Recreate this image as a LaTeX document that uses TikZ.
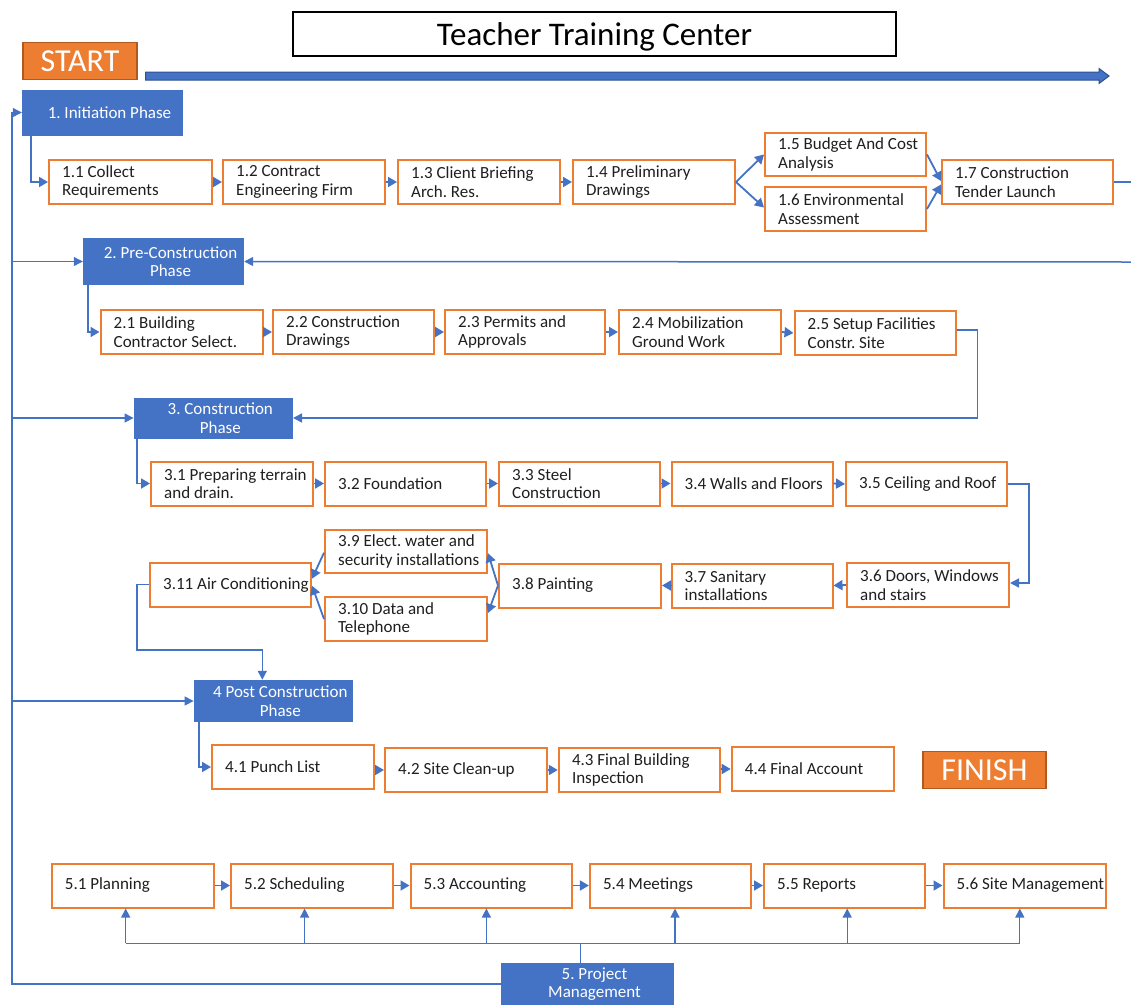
\documentclass[tikz,border=0pt]{standalone}
\usepackage{fontspec}
\setmainfont{Carlito}
\usetikzlibrary{arrows.meta}
\definecolor{pblue}{HTML}{4472C4}
\definecolor{pbluedark}{HTML}{2F528F}
\definecolor{porange}{HTML}{ED7D31}
\definecolor{porangedark}{HTML}{AE5A21}
\newcommand\bodyfont{\fontsize{17}{18.5}\selectfont\frenchspacing}
\newcommand\tagfont{\fontsize{32}{36}\selectfont}
\newcommand\titlefont{\fontsize{33}{38}\selectfont}

\begin{document}
\frenchspacing
\begin{tikzpicture}[x=1pt,y=-1pt,
  obox/.style={draw=porange, line width=2pt, fill=white, rectangle, inner sep=0pt, minimum height=44pt},
  otx/.style={anchor=west, inner sep=0pt, align=left, font=\bodyfont, text=black!88, xshift=14pt},
  phase/.style={fill=pblue, rectangle, inner sep=0pt},
  ptx/.style={inner sep=0pt, align=center, font=\bodyfont, text=white, xshift=7pt},
  tag/.style={fill=porange, draw=porangedark, line width=1.2pt, text=white, font=\tagfont, inner sep=0pt, text height=21pt, text depth=0pt},
  flow/.style={pblue, line width=1.8pt, -{Triangle[length=9pt,width=10pt]}},
  wire/.style={pblue, line width=1.1pt},
  wirearrow/.style={wire, -{Triangle[length=9pt,width=9pt]}},
]
\useasboundingbox (0,0) rectangle (1131,1004);
\clip (0,0) rectangle (1131,1004);

% title, start/finish tags and the timeline arrow
\node[draw=black, line width=2pt, minimum width=603pt, minimum height=44pt, inner sep=0pt, font=\titlefont, text height=23pt, text depth=0pt] (title) at (594.5,34) {Teacher Training Center};
\node[tag, minimum width=114pt, minimum height=37pt] (start) at (80,60.8) {START};
\node[tag, minimum width=123pt, minimum height=36.5pt] (finish) at (984.5,770) {FINISH};
\filldraw[fill=pblue, draw=pbluedark, line width=1pt]
  (145.5,72) -- (1099,72) -- (1099,68.5) -- (1109,76) -- (1099,83.5) -- (1099,80) -- (145.5,80) -- cycle;

% phase boxes
\node[phase, minimum width=161pt, minimum height=46pt, label={[ptx]center:{1. Initiation Phase}}] (p1) at (102.5,112.5) {};
\node[phase, minimum width=161pt, minimum height=47pt, label={[ptx]center:{2. Pre-Construction\\Phase}}] (p2) at (163.5,261.5) {};
\node[phase, minimum width=159pt, minimum height=41pt, label={[ptx]center:{3. Construction\\Phase}}] (p3) at (213.3,418) {};
\node[phase, minimum width=159pt, minimum height=42pt, label={[ptx]center:{4 Post Construction\\Phase}}] (p4) at (273.3,701) {};
\node[phase, minimum width=173pt, minimum height=42pt, label={[ptx]center:{5. Project\\Management}}] (pm) at (587.5,984) {};

% 1. initiation
\node[obox, minimum width=163pt, label={[otx]west:{1.1 Collect\\Requirements}}] (n11) at (130.5,182) {};
\node[obox, minimum width=162pt, label={[otx]west:{1.2 Contract\\Engineering Firm}}] (n12) at (304,182) {};
\node[obox, minimum width=162pt, label={[otx]west:{1.3 Client Briefing\\Arch. Res.}}] (n13) at (479,182) {};
\node[obox, minimum width=162pt, label={[otx]west:{1.4 Preliminary\\Drawings}}] (n14) at (654,182) {};
\node[obox, minimum width=161pt, minimum height=43pt, label={[otx]west:{1.5 Budget And Cost\\Analysis}}] (n15) at (845.5,154.5) {};
\node[obox, minimum width=161pt, label={[otx]west:{1.6 Environmental\\Assessment}}] (n16) at (845.5,209) {};
\node[obox, minimum width=171pt, label={[otx]west:{1.7 Construction\\Tender Launch}}] (n17) at (1027.5,182) {};

% 2. pre-construction
\node[obox, minimum width=162pt, label={[otx]west:{2.1 Building\\Contractor Select.}}] (n21) at (181.5,332) {};
\node[obox, minimum width=161pt, label={[otx]west:{2.2 Construction\\Drawings}}] (n22) at (353.5,332) {};
\node[obox, minimum width=160pt, label={[otx]west:{2.3 Permits and\\Approvals}}] (n23) at (525,332) {};
\node[obox, minimum width=162pt, label={[otx]west:{2.4 Mobilization\\Ground Work}}] (n24) at (700,332) {};
\node[obox, minimum width=161pt, label={[otx]west:{2.5 Setup Facilities\\Constr. Site}}] (n25) at (875,333) {};

% 3. construction
\node[obox, minimum width=162pt, label={[otx]west:{3.1 Preparing terrain\\and drain.}}] (n31) at (232,483.5) {};
\node[obox, minimum width=161pt, label={[otx]west:{3.2 Foundation}}] (n32) at (405.5,483.5) {};
\node[obox, minimum width=161pt, label={[otx]west:{3.3 Steel\\Construction}}] (n33) at (579.5,483.5) {};
\node[obox, minimum width=161pt, label={[otx]west:{3.4 Walls and Floors}}] (n34) at (752,483.5) {};
\node[obox, minimum width=161pt, label={[otx]west:{3.5 Ceiling and Roof}}] (n35) at (926.5,484) {};
\node[obox, minimum width=162pt, label={[otx]west:{3.6 Doors, Windows\\and stairs}}] (n36) at (928,585) {};
\node[obox, minimum width=161pt, label={[otx]west:{3.7 Sanitary\\installations}}] (n37) at (752,585.5) {};
\node[obox, minimum width=162pt, label={[otx]west:{3.8 Painting}}] (n38) at (580,585.5) {};
\node[obox, minimum width=162pt, minimum height=43pt, label={[otx]west:{3.9 Elect. water and\\security installations}}] (n39) at (406,551.7) {};
\node[obox, minimum width=162pt, label={[otx]west:{3.10 Data and\\Telephone}}] (n310) at (406,619) {};
\node[obox, minimum width=161pt, label={[otx]west:{3.11 Air Conditioning}}] (n311) at (230.5,584.7) {};

% 4. post construction
\node[obox, minimum width=162pt, label={[otx]west:{4.1 Punch List}}] (n41) at (293,767) {};
\node[obox, minimum width=162pt, label={[otx]west:{4.2 Site Clean-up}}] (n42) at (466,770) {};
\node[obox, minimum width=161pt, label={[otx]west:{4.3 Final Building\\Inspection}}] (n43) at (639.3,770) {};
\node[obox, minimum width=162pt, label={[otx]west:{4.4 Final Account}}] (n44) at (812.7,769) {};

% 5. project management
\node[obox, minimum width=162pt, label={[otx]west:{5.1 Planning}}] (n51) at (132.7,885.5) {};
\node[obox, minimum width=162pt, label={[otx]west:{5.2 Scheduling}}] (n52) at (312,885.5) {};
\node[obox, minimum width=161pt, label={[otx]west:{5.3 Accounting}}] (n53) at (491,885.5) {};
\node[obox, minimum width=161pt, label={[otx]west:{5.4 Meetings}}] (n54) at (670.4,885.5) {};
\node[obox, minimum width=161pt, label={[otx]west:{5.5 Reports}}] (n55) at (844.5,885.5) {};
\node[obox, minimum width=162pt, label={[otx]west:{5.6 Site Management}}] (n56) at (1024.5,885.5) {};

% phase -> first task
\draw[flow] ([xshift=9pt]p1.south west) |- (n11.west);
\draw[flow] ([xshift=5pt]p2.south west) |- (n21.west);
\draw[flow] ([xshift=3pt]p3.south west) |- (n31.west);
\draw[flow] ([xshift=5pt]p4.south west) |- (n41.west);

% 1.x chain
\draw[flow] (n11.east) -- (n12.west);
\draw[flow] (n12.east) -- (n13.west);
\draw[flow] (n13.east) -- (n14.west);
\draw[flow] (n14.east) -- (n15.west);
\draw[flow] (n14.east) -- ([yshift=1.5pt]n16.west);
\draw[flow] (n15.east) -- ([yshift=1pt]n17.west);
\draw[flow] (n16.east) -- ([yshift=-2.5pt]n17.west);
\coordinate (r1) at (1131,182);
\coordinate (r2) at (1131,262);
\draw[wire, line width=1.5pt] (n17.east) -- (r1);
\draw[wirearrow, line width=1.5pt] (r2) -- (p2.east);

% 2.x chain
\draw[flow] (n21.east) -- (n22.west);
\draw[flow] (n22.east) -- (n23.west);
\draw[flow] (n23.east) -- (n24.west);
\draw[flow] (n24.east) -- (n25.west);
\draw[wirearrow, line width=1.5pt] ([yshift=3pt]n25.east) -- ++(21pt,0pt) |- (p3.east);

% 3.x chain
\draw[flow] (n31.east) -- (n32.west);
\draw[flow] (n32.east) -- (n33.west);
\draw[flow] (n33.east) -- (n34.west);
\draw[flow] (n34.east) -- (n35.west);
\draw[wirearrow, line width=1.5pt] (n35.east) -- ++(21pt,0pt) |- ([yshift=2pt]n36.east);
\draw[flow] (n36.west) -- (n37.east);
\draw[flow] (n37.west) -- (n38.east);
\draw[flow] (n38.west) -- ([yshift=-1.5pt]n39.east);
\draw[flow] (n38.west) -- ([yshift=6pt]n310.east);
\draw[flow] ([yshift=-1pt]n39.west) -- ([yshift=6pt]n311.east);
\draw[flow] (n310.west) -- ([yshift=-1pt]n311.east);
\coordinate (bend) at (137,650);
\draw[wirearrow, line width=1.5pt] (n311.west) -| (bend) -| ([xshift=-11pt]p4.north);

% 4.x chain
\draw[flow] (n41.east |- n42.west) -- (n42.west);
\draw[flow] (n42.east) -- (n43.west);
\draw[flow] (n43.east |- n44.west) -- (n44.west);

% 5.x chain
\draw[flow] (n51.east) -- (n52.west);
\draw[flow] (n52.east) -- (n53.west);
\draw[flow] (n53.east) -- (n54.west);
\draw[flow] (n54.east) -- (n55.west);
\draw[flow] (n55.east) -- (n56.west);

% project management bus
\coordinate (bus) at (580.3,943.3);
\coordinate (b1) at (125.7,943.3);
\coordinate (b2) at (304.6,943.3);
\coordinate (b3) at (486.4,943.3);
\coordinate (b4) at (675,943.3);
\coordinate (b5) at (847.2,943.3);
\coordinate (b6) at (1019.8,943.3);
\draw[wire] ([xshift=-7.2pt]pm.north) -- (bus);
\draw[wire] (b1) -- (b6);
\draw[wirearrow] (b1) -- (b1 |- n51.south);
\draw[wirearrow] (b2) -- (b2 |- n52.south);
\draw[wirearrow] (b3) -- (b3 |- n53.south);
\draw[wirearrow] (b4) -- (b4 |- n54.south);
\draw[wirearrow] (b5) -- (b5 |- n55.south);
\draw[wirearrow] (b6) -- (b6 |- n56.south);

% feedback loop from project management to every phase
\coordinate (lb) at (12,984);
\draw[wirearrow] (pm.west) -- (lb) |- (p1.west);
\draw[wirearrow] (lb |- p2.west) -- (p2.west);
\draw[wirearrow] (lb |- p3.west) -- (p3.west);
\draw[wirearrow] (lb |- p4.west) -- (p4.west);
\end{tikzpicture}
\end{document}
